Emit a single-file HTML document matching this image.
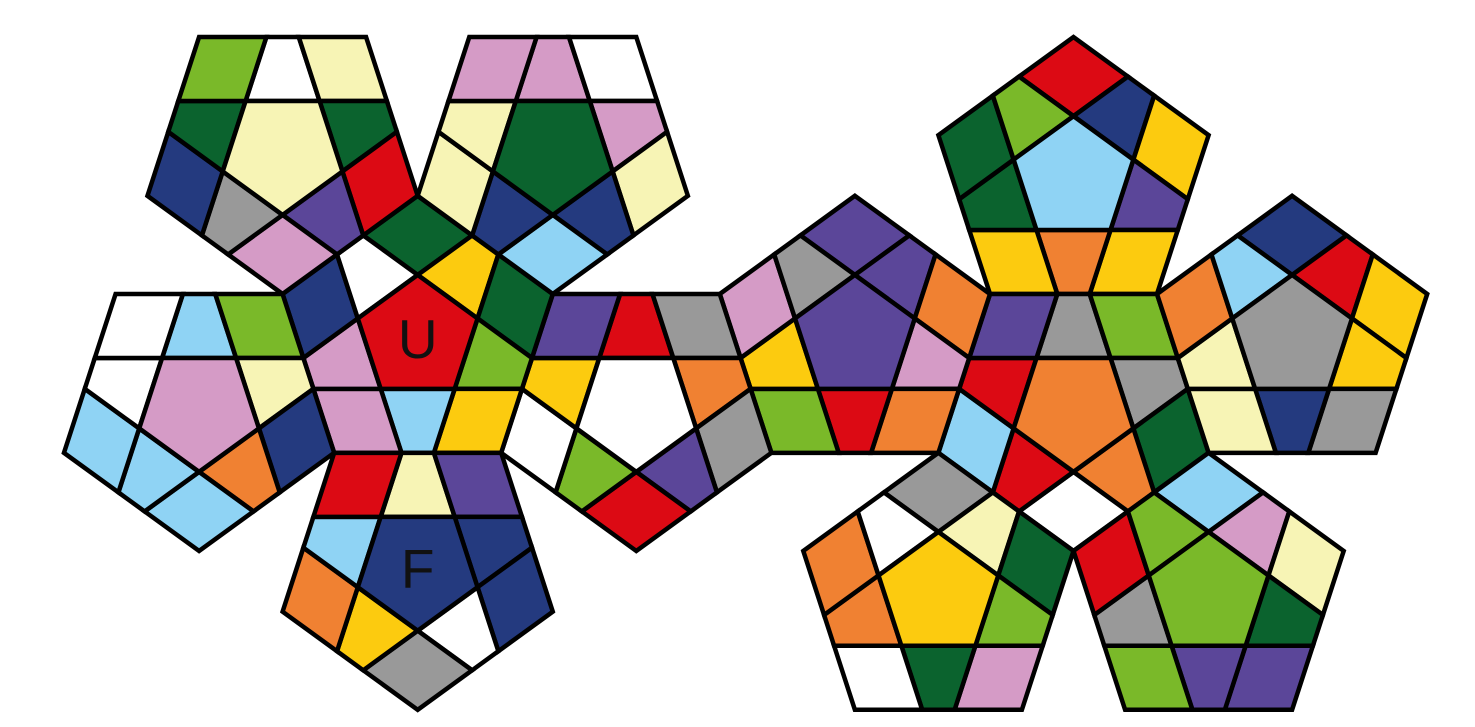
<!DOCTYPE html>
<html>
<head>
<meta charset="utf-8">
<style>
  html,body{margin:0;padding:0;background:#fff;}
  svg{display:block;}
  text{font-family:"Liberation Sans",sans-serif;}
</style>
</head>
<body>
<svg id="net" width="1475" height="727" viewBox="0 0 1475 727" xmlns="http://www.w3.org/2000/svg"></svg>
<script>
const PAL = {
  red:'#dc0a14', navy:'#243a7f', yellow:'#fccb0f', purple:'#5b4699', orange:'#f08132',
  dkgreen:'#0b632e', lime:'#7ab929', lblue:'#8fd3f4', pink:'#d59bc6', cream:'#f7f4b5',
  gray:'#999999', white:'#ffffff'
};
const faceNames = ['top','right-center','purple','lower-left','lower-right','upper-right','white','U','F','left','upper-left','upper-right-left'];
const centerColors = ['lblue','orange','purple','yellow','lime','gray','white','red','navy','pink','cream','dkgreen'];
const ringTop   = ['red','navy','yellow','purple','yellow','orange','yellow','dkgreen','dkgreen','lime'];
const ringRC    = ['gray','lime','gray','dkgreen','orange','white','red','lblue','red','purple'];
const ringPurp  = ['purple','purple','orange','pink','orange','red','lime','yellow','pink','gray'];
const ringLL    = ['gray','cream','dkgreen','lime','pink','dkgreen','white','orange','orange','white'];
const ringLR    = ['lblue','pink','cream','dkgreen','purple','purple','lime','gray','red','lime'];
const ringUR    = ['navy','red','yellow','yellow','gray','navy','cream','cream','orange','lblue'];
const ringWhite = ['red','gray','orange','gray','purple','red','lime','white','yellow','purple'];
const ringU     = ['dkgreen','yellow','dkgreen','lime','yellow','lblue','pink','pink','navy','white'];
const ringF     = ['cream','purple','navy','navy','white','gray','yellow','orange','lblue','red'];
const ringLeft  = ['lblue','lime','cream','navy','orange','lblue','lblue','lblue','white','white'];
const ringUL    = ['white','cream','dkgreen','red','purple','pink','gray','navy','dkgreen','lime'];
const ringUR2   = ['pink','white','pink','cream','navy','lblue','navy','cream','cream','pink'];
const rings = [ringTop,ringRC,ringPurp,ringLL,ringLR,ringUR,ringWhite,ringU,ringF,ringLeft,ringUL,ringUR2];
const labels = {'U':'U','F':'F'};

const S=167, AP=S/(2*Math.tan(Math.PI/5)), R=S/(2*Math.sin(Math.PI/5)), D=64;
const rad=x=>x*Math.PI/180;
function step(c,deg){return [c[0]+2*AP*Math.cos(rad(deg)), c[1]+2*AP*Math.sin(rad(deg))];}
const cRC=[1073.5,294+AP];
const cTop=step(cRC,-90), cPurp=step(cRC,-162), cLL=step(cRC,126), cLR=step(cRC,54), cUR=step(cRC,-18);
const cWhite=step(cPurp,162), cU=step(cWhite,-162);
const cF=step(cU,90), cLeft=step(cU,162), cUL=step(cU,-126), cUR2=step(cU,-54);
const centers=[cTop,cRC,cPurp,cLL,cLR,cUR,cWhite,cU,cF,cLeft,cUL,cUR2];
const vertexUp=[true,false,true,true,true,true,false,true,false,false,false,false];

const svg=document.getElementById('net');
const NS='http://www.w3.org/2000/svg';
function poly(pts,fill,name,parent){
  const p=document.createElementNS(NS,'polygon');
  p.setAttribute('points',pts.map(q=>q[0].toFixed(2)+','+q[1].toFixed(2)).join(' '));
  p.setAttribute('fill',fill);
  p.setAttribute('stroke','#000');
  p.setAttribute('stroke-width','4.5');
  p.setAttribute('stroke-linejoin','miter');
  
  
  parent.appendChild(p);
}
const T=D/Math.sin(rad(108));
const r=R*(AP-D)/AP;
centers.forEach((c,fi)=>{
  const g=document.createElementNS(NS,'g');
  
  
  svg.appendChild(g);
  const th0=vertexUp[fi]?-90:90;
  const V=[],W=[];
  for(let k=0;k<5;k++){
    const a=rad(th0+72*k);
    V.push([c[0]+R*Math.cos(a),c[1]+R*Math.sin(a)]);
    W.push([c[0]+r*Math.cos(a),c[1]+r*Math.sin(a)]);
  }
  const toward=(p,q)=>[p[0]+(q[0]-p[0])*T/S,p[1]+(q[1]-p[1])*T/S];
  const stickers=[];
  for(let j=0;j<5;j++){
    const vj=V[j],vn=V[(j+1)%5],vp=V[(j+4)%5];
    stickers.push({kind:'corner',pts:[vj,toward(vj,vn),W[j],toward(vj,vp)]});
    stickers.push({kind:'edge',pts:[toward(vj,vn),toward(vn,vj),W[(j+1)%5],W[j]]});
  }
  stickers.forEach(s=>{
    const mx=s.pts.reduce((a,p)=>a+p[0],0)/4, my=s.pts.reduce((a,p)=>a+p[1],0)/4;
    let ang=Math.atan2(mx-c[0],-(my-c[1]))*180/Math.PI;
    s.ang=(ang+361)%360;
  });
  stickers.sort((a,b)=>a.ang-b.ang);
  stickers.forEach((s,i)=>poly(s.pts,PAL[rings[fi][i]],faceNames[fi]+'-'+s.kind+'-sticker-'+i,g));
  poly(W,PAL[centerColors[fi]],faceNames[fi]+'-center-sticker',g);
  const lab=faceNames[fi];
  if(labels[lab]){
    const t=document.createElementNS(NS,'text');
    t.setAttribute('x',c[0].toFixed(1));
    t.setAttribute('y',(c[1]+20).toFixed(1));
    t.setAttribute('text-anchor','middle');
    t.setAttribute('font-size','55');
    t.setAttribute('fill','#111');
    
    
    t.textContent=labels[lab];
    g.appendChild(t);
  }
});
</script>
</body>
</html>
